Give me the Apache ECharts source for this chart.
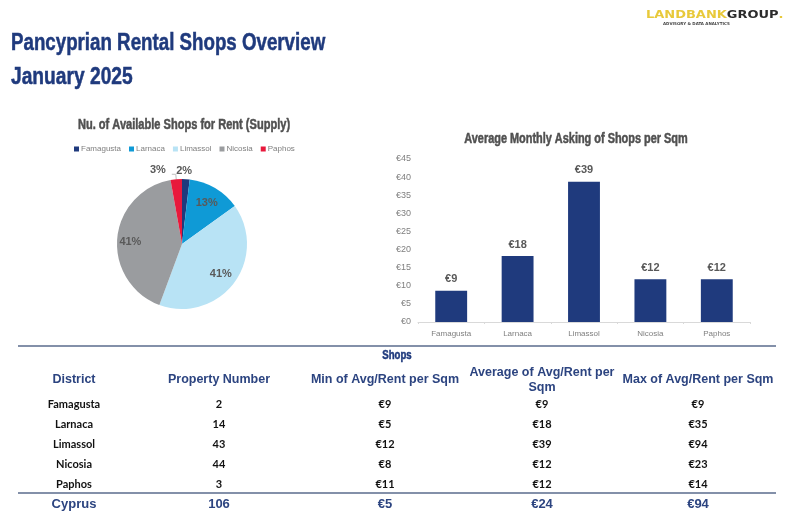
<!DOCTYPE html>
<html>
<head>
<meta charset="utf-8">
<style>html,body{margin:0;padding:0;background:#fff}#main{width:800px;height:519px}</style>
<script src="https://cdn.jsdelivr.net/npm/echarts@6/dist/echarts.min.js"></script>
</head>
<body>
<div id="main"></div>
<script>
const districts = ["Famagusta", "Larnaca", "Limassol", "Nicosia", "Paphos"];
const propertyNumber = [2, 14, 43, 44, 3];
const pieLabels = ["2%", "13%", "41%", "41%", "3%"];
const askingPerSqm = [8.6, 18.2, 38.7, 11.8, 11.8];
const minRent = [9, 5, 12, 8, 11];
const avgRent = [9, 18, 39, 12, 12];
const maxRent = [9, 35, 94, 23, 14];
const totalRow = ["Cyprus", "106", "€5", "€24", "€94"];
const headers = ["District", "Property Number", "Min of Avg/Rent per Sqm", "Average of Avg/Rent per\nSqm", "Max of Avg/Rent per Sqm"];
const pieColors = ["#1f3a7d", "#0f9ad6", "#b8e3f5", "#9a9c9f", "#e8193c"];

const SANS = '"Liberation Sans", sans-serif';
const BLUE = "#1f3a7d";
const HEAD = "#2c4480";
const colX = [74, 219, 385, 542, 698];
const rowY = [404, 424, 444, 464, 484];
const pieCenter = [182, 244];

const cell = (text, x, y, font, fill) => ({
  type: "text",
  style: { text, x, y, font, fill, align: "center", verticalAlign: "middle" },
});
// no narrow font installed, so squeeze the heading text horizontally
// and thicken it a little with a stroke
const squeezed = (text, x, y, font, fill, scaleX, align) => ({
  type: "text",
  x, y, scaleX,
  style: {
    text, x: 0, y: 0, font, fill,
    stroke: fill, lineWidth: 0.5,
    align: align || "center", verticalAlign: "middle",
  },
});
const rule = (y) => ({
  type: "line",
  shape: { x1: 18, y1: y, x2: 776, y2: y },
  style: { stroke: "#5a6b8c", lineWidth: 1.5 },
});

const tableElements = [rule(346), rule(493)];
tableElements.push(squeezed("Shops", 397, 356, "bold 12px " + SANS, BLUE, 0.8));
headers.forEach((h, i) => {
  tableElements.push({
    type: "text",
    style: {
      text: h, x: colX[i], y: 380,
      font: "bold 12.5px " + SANS,
      fill: HEAD, align: "center", verticalAlign: "middle", lineHeight: 15,
    },
  });
});
districts.forEach((d, r) => {
  const row = [d, String(propertyNumber[r]), "€" + minRent[r], "€" + avgRent[r], "€" + maxRent[r]];
  row.forEach((t, i) => {
    tableElements.push(cell(t, colX[i], rowY[r], "bold 11px Lato, sans-serif", "#111"));
  });
});
totalRow.forEach((t, i) => {
  tableElements.push(cell(t, colX[i], 504, "bold 13px " + SANS, HEAD));
});

const headerElements = [
  squeezed("Pancyprian Rental Shops Overview", 11, 43, "bold 24px " + SANS, BLUE, 0.78, "left"),
  squeezed("January 2025", 11, 77, "bold 24px " + SANS, BLUE, 0.8, "left"),
  squeezed("Nu. of Available Shops for Rent (Supply)", 184, 125, "bold 14px " + SANS, "#505050", 0.79),
  squeezed("Average Monthly Asking of Shops per Sqm", 576, 139, "bold 14px " + SANS, "#505050", 0.78),
  {
    type: "text", x: 646, y: 15, scaleX: 1.18,
    style: {
      x: 0, y: 0, verticalAlign: "middle",
      text: "{a|LANDBANK}{b|GROUP}{a|.}",
      rich: {
        a: { font: 'bold 11px "DejaVu Sans", sans-serif', fill: "#e8c93a" },
        b: { font: 'bold 11px "DejaVu Sans", sans-serif', fill: "#2b2b2b" },
      },
    },
  },
  { type: "text", style: { text: "ADVISORY & DATA ANALYTICS", x: 663, y: 24, verticalAlign: "middle", font: 'bold 4px "DejaVu Sans", sans-serif', fill: "#444" } },
];

const chart = echarts.init(document.getElementById("main"));
chart.setOption({
  animation: false,
  backgroundColor: "#fff",
  legend: {
    data: districts,
    left: 74, top: 145,
    padding: 0,
    itemWidth: 5, itemHeight: 5, itemGap: 8,
    icon: "rect",
    textStyle: { fontFamily: SANS, fontSize: 8, color: "#7f7f7f", padding: [0, 0, 0, -3] },
  },
  grid: { left: 418, right: 50, top: 159, bottom: 197 },
  xAxis: {
    type: "category",
    data: districts,
    axisLine: { lineStyle: { color: "#d9d9d9" } },
    axisTick: { show: true, length: 2, lineStyle: { color: "#d9d9d9" } },
    axisLabel: { fontFamily: SANS, fontSize: 8, color: "#7f7f7f", margin: 8 },
  },
  yAxis: {
    type: "value",
    min: 0, max: 45, interval: 5,
    splitLine: { show: false },
    axisLine: { show: false },
    axisTick: { show: false },
    axisLabel: { fontFamily: SANS, fontSize: 9, color: "#7f7f7f", margin: 7, formatter: "€{value}" },
  },
  series: [
    {
      type: "pie",
      center: pieCenter,
      radius: 65,
      startAngle: 90,
      legendHoverLink: false,
      data: districts.map((name, i) => ({
        name,
        value: propertyNumber[i],
        itemStyle: { color: pieColors[i] },
        label: { position: propertyNumber[i] < 5 ? "outside" : "inside" },
        labelLine: { show: i === 4 },
      })),
      label: {
        formatter: (p) => pieLabels[p.dataIndex],
        fontFamily: SANS,
        fontSize: 11, fontWeight: "bold", color: "#595959",
      },
      labelLine: { length: 5, length2: 4, lineStyle: { color: "#bfbfbf", width: 1 } },
      // the outside labels hug the top, the inside ones sit out towards the rim
      labelLayout: (p) => {
        if (p.dataIndex === 0) return { dx: -19, dy: -3 };
        if (p.dataIndex === 4) return { dx: -1, dy: -4 };
        const k = p.dataIndex === 1 ? 0.25 : 0.5;
        const cx = p.rect.x + p.rect.width / 2;
        const cy = p.rect.y + p.rect.height / 2;
        const nudge = p.dataIndex === 1 ? -2 : 2;
        return { dx: (cx - pieCenter[0]) * k, dy: (cy - pieCenter[1]) * k + nudge };
      },
    },
    {
      type: "bar",
      data: askingPerSqm,
      barWidth: "48%",
      itemStyle: { color: BLUE },
      label: {
        show: true,
        position: "top",
        distance: 6,
        formatter: (p) => "€" + p.value.toFixed(0),
        fontFamily: SANS,
        fontSize: 11, fontWeight: "bold", color: "#595959",
      },
    },
  ],
  graphic: { elements: headerElements.concat(tableElements) },
});
</script>
</body>
</html>
